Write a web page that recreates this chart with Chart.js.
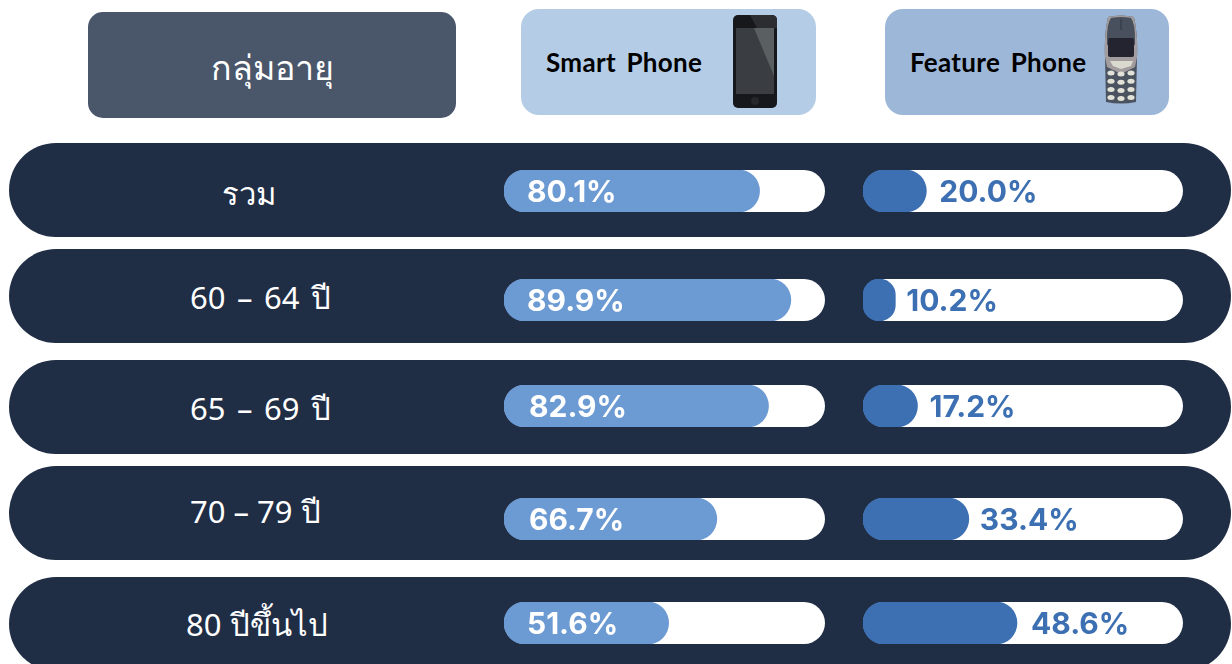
<!DOCTYPE html>
<html lang="th">
<head>
<meta charset="utf-8">
<title>กลุ่มอายุ</title>
<script src="https://cdn.jsdelivr.net/npm/chart.js@4"></script>
<style>
  html, body { margin: 0; padding: 0; background: #fff; overflow: hidden; }
  #page { position: relative; width: 1232px; height: 664px; overflow: hidden; font-family: "Noto Sans", sans-serif; }
  .box { position: absolute; }
  .text { position: absolute; white-space: nowrap; line-height: 40px; }
  .pill { position: absolute; left: 9px; width: 1222px; height: 94px; border-radius: 47px; background: #1f2d45; }
  .track { position: absolute; height: 42px; background: #fff; border-radius: 21px; }
  .age { position: absolute; color: #fff; font-size: 31px; line-height: 40px; white-space: nowrap; }
  canvas { position: absolute; }
  svg { position: absolute; }
</style>
</head>
<body>
<div id="page">
  <div class="box" style="left:88px;top:12px;width:368px;height:106px;border-radius:15px;background:#4a566a"></div>
  <div class="box" style="left:521px;top:9px;width:295px;height:106px;border-radius:18px;background:#b4cce6"></div>
  <div class="box" style="left:885px;top:9px;width:284px;height:106px;border-radius:18px;background:#9db7d9"></div>
  <div class="text" id="head-age" style="left:211px;top:47px;color:#fff;font-size:34px"></div>
  <div class="text" id="head-smart" style="left:546px;top:42px;color:#000;font-size:26px;font-weight:700;font-family:Lato,sans-serif;letter-spacing:0.3px;word-spacing:4px"></div>
  <div class="text" id="head-feature" style="left:910px;top:42px;color:#000;font-size:26px;font-weight:700;font-family:Lato,sans-serif;letter-spacing:0.3px;word-spacing:4px"></div>

  <svg style="left:733px;top:15px" width="44" height="94" viewBox="0 0 44 94">
    <rect width="44" height="93" rx="5" fill="#17181c"/>
    <path d="M17 0 L38 0 Q44 0 44 5 L44 13 L24 13 Z" fill="#2b2d31"/>
    <rect x="3" y="13" width="38" height="66" fill="#3a3e42"/>
    <path d="M21 13 L41 13 L41 61 Z" fill="#5a5f62"/>
    <circle cx="22" cy="86" r="4" fill="#25272b"/>
  </svg>
  <svg style="left:1103px;top:15px" width="36" height="90" viewBox="0 0 36 90">
    <path d="M5 2 Q18 -1 31 2 Q35 20 34 42 L33 87 Q18 90 3 87 L2 42 Q1 20 5 2 Z" fill="#4a535f"/>
    <path d="M5 2 Q18 -1 31 2 Q35 20 34 42 L32 52 L20 58 L16 58 L4 52 L2 42 Q1 20 5 2 Z" fill="#a29c9e"/>
    <path d="M8 3 Q18 1 28 3 Q32 8 32 24 L32 30 L4 30 L4 24 Q4 8 8 3 Z" fill="#47505c"/>
    <rect x="17.5" y="4" width="1" height="11" fill="#2f3640"/>
    <rect x="5" y="23" width="26" height="19" rx="2" fill="#23242f"/>
    <path d="M7 46 L30 46 L28 51 L18 54 L10 51 Z" fill="#d9d9d0"/>
    <g fill="#e2e2d8" id="keys"></g>
  </svg>

  <div id="rows"></div>
</div>

<script>
const ageGroups = ["รวม", "60 – 64 ปี", "65 – 69 ปี", "70 – 79 ปี", "80 ปีขึ้นไป"];
const smartPhone = [80.1, 89.9, 82.9, 66.7, 51.6];
const featurePhone = [20.0, 10.2, 17.2, 33.4, 48.6];

const headAge = "กลุ่มอายุ";
const headSmart = "Smart Phone";
const headFeature = "Feature Phone";

// layout only, the source image does not space its rows evenly
const pillTops = [143, 249, 360, 466, 577];
const barTops = [170, 279, 385, 498, 602];
const ageLefts = [222, 190, 190, 190, 186];
const ageTops = [173, 277, 388, 491, 604];
const ageSpacing = [0, 3.5, 3.5, 0, 0];
const smartTextGap = [23, 23, 25, 25, 23];
const featureTextGap = [13, 11, 12, 11, 14];

document.getElementById("head-age").textContent = headAge;
document.getElementById("head-smart").textContent = headSmart;
document.getElementById("head-feature").textContent = headFeature;

// keypad of the old phone
const keys = document.getElementById("keys");
for (let r = 0; r < 4; r++) {
  for (let c = 0; c < 3; c++) {
    const key = document.createElementNS("http://www.w3.org/2000/svg", "ellipse");
    key.setAttribute("cx", 8 + c * 10);
    key.setAttribute("cy", 58 + r * 8.2 + (c === 1 ? 1 : 0));
    key.setAttribute("rx", 3.6);
    key.setAttribute("ry", 2.5);
    keys.appendChild(key);
  }
}

// writes the percentage next to the end of the bar, or at a fixed place inside it
const valueLabel = {
  id: "valueLabel",
  afterDatasetsDraw(chart, args, opts) {
    const bar = chart.getDatasetMeta(0).data[0];
    const value = chart.data.datasets[0].data[0];
    const ctx = chart.ctx;
    ctx.save();
    ctx.font = '700 30px Inter, sans-serif';
    ctx.textBaseline = "middle";
    ctx.fillStyle = opts.color;
    const x = opts.inside ? opts.gap : bar.x + opts.gap;
    ctx.fillText(value.toFixed(1) + "%", x, bar.y + 2);
    ctx.restore();
  },
};

function addBar(parent, value, label, left, top, width, axisMax, color, textColor, inside, gap) {
  const track = document.createElement("div");
  track.className = "track";
  track.style.left = left + "px";
  track.style.top = top + "px";
  track.style.width = width + "px";
  parent.appendChild(track);

  const canvas = document.createElement("canvas");
  canvas.width = width;
  canvas.height = 42;
  canvas.style.left = left + "px";
  canvas.style.top = top + "px";
  parent.appendChild(canvas);

  new Chart(canvas.getContext("2d"), {
    type: "bar",
    data: {
      labels: [label],
      datasets: [
        {
          data: [value],
          backgroundColor: color,
          borderRadius: 21,
          borderSkipped: false,
          barPercentage: 1,
          categoryPercentage: 1,
        },
      ],
    },
    options: {
      indexAxis: "y",
      responsive: false,
      animation: false,
      layout: { padding: 0 },
      scales: {
        x: { display: false, min: 0, max: axisMax },
        y: { display: false },
      },
      plugins: {
        legend: { display: false },
        tooltip: { enabled: false },
        valueLabel: { color: textColor, inside: inside, gap: gap },
      },
    },
    plugins: [valueLabel],
  });
}

const rows = document.getElementById("rows");
ageGroups.forEach((group, i) => {
  const pill = document.createElement("div");
  pill.className = "pill";
  pill.style.top = pillTops[i] + "px";
  rows.appendChild(pill);

  const age = document.createElement("div");
  age.className = "age";
  age.textContent = group;
  age.style.left = ageLefts[i] + "px";
  age.style.top = ageTops[i] + "px";
  age.style.wordSpacing = ageSpacing[i] + "px";
  rows.appendChild(age);

  addBar(rows, smartPhone[i], group, 504, barTops[i], 321, 100.6, "#6c9ad2", "#ffffff", true, smartTextGap[i]);
  addBar(rows, featurePhone[i], group, 863, barTops[i], 320, 101, "#3d70b2", "#3d70b2", false, featureTextGap[i]);
});
</script>
</body>
</html>
